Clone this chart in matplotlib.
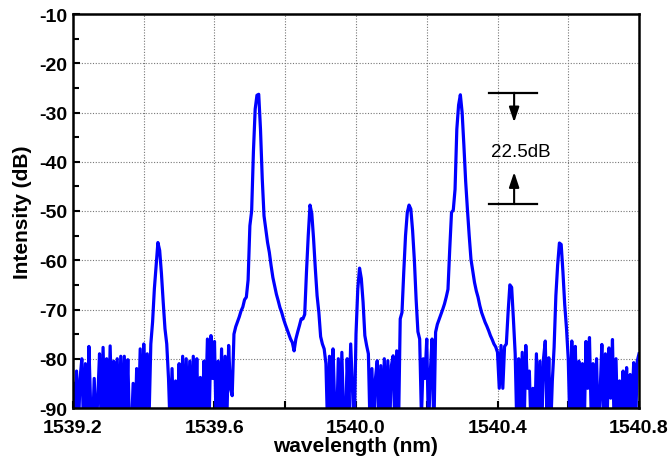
import numpy as np
import matplotlib
matplotlib.use("Agg")
import matplotlib.pyplot as plt
from matplotlib.ticker import FixedLocator, MultipleLocator

plt.rcParams['font.family'] = ['Liberation Sans', 'DejaVu Sans']
plt.rcParams['axes.unicode_minus'] = False

# ---- data ----
wl_start = 1539.2
wl_step = 0.005
intensity_db = [
    -85, -95, -82.5, -95, -84, -80, -95, -81, -95, -77.5,
    -90, -95, -84, -95, -88, -79, -95, -77.7, -92, -80,
    -95, -77.4, -92, -80.5, -95, -80, -95, -79.5, -95, -79.5,
    -92, -80.2, -95, -95, -85, -95, -82, -92, -78, -95,
    -77, -90, -79, -92, -77, -72.5, -65.8, -61, -56.4, -58,
    -62.7, -68.5, -73.9, -77, -84, -95, -82, -95, -84.5, -92,
    -81, -95, -79.5, -95, -80, -95, -80.5, -95, -79.5, -92,
    -80, -95, -83.8, -95, -80.5, -90, -76, -92, -75.3, -84,
    -76.5, -95, -80.5, -95, -78, -95, -79.5, -92, -77.3, -86,
    -87.5, -75, -73.5, -72.5, -71.5, -70.3, -69.5, -68, -67.5, -64,
    -53, -50, -38, -29.3, -26.5, -26.3, -33.4, -43.5, -51, -53.7,
    -56.4, -58.4, -61.1, -63.5, -65.2, -66.9, -68.2, -69.6, -70.6, -71.9,
    -73, -74, -75, -76, -76.7, -78.4, -76, -74.6, -73.3, -71.9,
    -71.9, -71, -62.4, -55, -48.8, -50.5, -55.6, -61.7, -67.2, -70.6,
    -75.5, -77, -78, -81, -95, -79.5, -95, -78, -90, -95,
    -80, -95, -78.7, -92, -95, -80, -90, -77, -86, -95,
    -75, -65.9, -61.6, -63.7, -68.5, -75.3, -77.3, -79, -95, -82,
    -95, -84, -80.4, -95, -81.4, -95, -80, -95, -80.4, -95,
    -81.4, -79.4, -95, -78.4, -95, -71.9, -70.6, -62.4, -55, -50.3,
    -48.8, -49.6, -54, -60, -68, -74.5, -76, -92, -80, -84,
    -76, -95, -82.8, -76, -95, -74.6, -73, -72, -71, -70,
    -68.9, -67.5, -65.9, -57.7, -50.3, -49.8, -45.6, -33.4, -28.5, -26.4,
    -30, -36.7, -44, -49.7, -55, -59.8, -62.1, -64.5, -66.2, -67.5,
    -69.2, -70.6, -71.6, -72.6, -73.4, -74.3, -75.3, -76.1, -77, -77.6,
    -78.7, -86, -77.3, -86, -77.5, -77, -70.5, -65, -65.5, -72,
    -79, -95, -80, -92, -78.7, -95, -77.3, -86, -82.5, -95,
    -86, -95, -79, -95, -80.5, -95, -80, -76.4, -92, -79.8,
    -95, -84.5, -77.7, -67.2, -61, -56.5, -56.8, -62.4, -69, -73.8,
    -80, -95, -76.4, -90, -77.5, -95, -80.5, -92, -81, -95,
    -76.5, -86, -75.7, -92, -81, -95, -80, -95, -87, -77.1,
    -95, -79, -92, -77.8, -88, -76.1, -95, -80, -95, -84.5,
    -95, -82.5, -92, -81.8, -95, -83.2, -90, -80.8, -95, -80.5,
    -79,
]
wavelength = wl_start + wl_step * np.arange(len(intensity_db))

x_ticks = [1539.2, 1539.4, 1539.6, 1539.8, 1540.0, 1540.2, 1540.4, 1540.6, 1540.8]
x_tick_labels = ["1539.2", "", "1539.6", "", "1540.0", "", "1540.4", "", "1540.8"]
y_ticks = [-90, -80, -70, -60, -50, -40, -30, -20, -10]
y_tick_labels = ["-90", "-80", "-70", "-60", "-50", "-40", "-30", "-20", "-10"]

# annotation (peak difference)
ann_top = -26.0
ann_bottom = -48.6
ann_x0, ann_x1 = 1540.376, 1540.511
ann_xc = 1540.447
ann_text = "22.5dB"

# ---- figure ----
fig = plt.figure(figsize=(6.70, 4.64), dpi=100)
ax = fig.add_axes([73 / 670, 55 / 464, (639 - 73) / 670, (409 - 15) / 464])

ax.plot(wavelength, intensity_db, color=(0, 0, 1), lw=2.3, solid_joinstyle='round')

ax.set_xlim(1539.2, 1540.8)
ax.set_ylim(-90, -10)
ax.xaxis.set_major_locator(FixedLocator(x_ticks))
ax.set_xticklabels(x_tick_labels)
ax.yaxis.set_major_locator(FixedLocator(y_ticks))
ax.set_yticklabels(y_tick_labels)
ax.yaxis.set_minor_locator(MultipleLocator(5))

ax.grid(True, which='major', color='#777777', linestyle=(0, (1, 1.5)), lw=0.8)
ax.tick_params(axis='both', which='major', direction='in', length=5, width=1.5,
               labelsize=14)
ax.tick_params(axis='x', which='major', pad=8)
ax.tick_params(axis='y', which='major', pad=4)
ax.tick_params(axis='y', which='minor', direction='in', length=4, width=1.5)
for lab in ax.get_xticklabels() + ax.get_yticklabels():
    lab.set_fontweight('bold')
for sp in ax.spines.values():
    sp.set_linewidth(1.8)
    sp.set_color('black')

ax.set_xlabel("wavelength (nm)", fontsize=15, fontweight='bold', labelpad=0)
ax.set_ylabel("Intensity (dB)", fontsize=15, fontweight='bold', labelpad=5)

# annotation
ax.plot([ann_x0, ann_x1], [ann_top, ann_top], color='black', lw=1.6)
ax.plot([ann_x0, ann_x1], [ann_bottom, ann_bottom], color='black', lw=1.6)
arrow_style = '-|>,head_length=0.45,head_width=0.15'
ax.annotate('', xy=(ann_xc, -32.0), xytext=(ann_xc, ann_top),
            arrowprops=dict(arrowstyle=arrow_style, color='black', lw=1.5,
                            mutation_scale=20, shrinkA=0, shrinkB=0))
ax.annotate('', xy=(ann_xc, -42.1), xytext=(ann_xc, ann_bottom),
            arrowprops=dict(arrowstyle=arrow_style, color='black', lw=1.5,
                            mutation_scale=20, shrinkA=0, shrinkB=0))
ax.text(1540.466, -38.0, ann_text, ha='center', va='center', fontsize=13.5)

fig.savefig("out.png", dpi=100)
